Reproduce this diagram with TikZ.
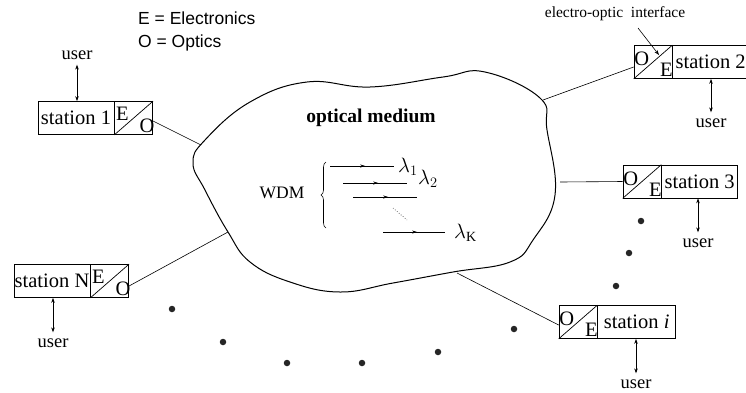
\documentclass[tikz,border=0pt]{standalone}
\usepackage{fontspec}
\setmainfont{Liberation Serif}
\newfontfamily\sansfam{Liberation Sans}
\usetikzlibrary{decorations.pathreplacing,decorations.markings,arrows.meta}
\begin{document}
\begin{tikzpicture}[x=1pt,y=-1pt,
 lab/.style={draw, line width=0.7pt, minimum height=33pt, inner sep=0pt, font=\fontsize{20.5}{22}\selectfont},
 eo/.style={draw, line width=0.7pt, minimum width=38pt, minimum height=33pt, inner sep=0pt},
 letter/.style={inner sep=0pt, font=\fontsize{20.5}{22}\selectfont},
 usr/.style={inner sep=1pt, font=\fontsize{18.5}{20}\selectfont},
 uarrow/.style={{Stealth[length=5pt,width=3.5pt]}-{Stealth[length=5pt,width=3.5pt]}, line width=0.6pt},
 link/.style={line width=0.6pt},
 dot/.style={circle, fill=black!85, inner sep=0pt, minimum size=6.5pt},
 wave/.style={line width=0.6pt, postaction={decorate}, decoration={markings, mark=at position 0.55 with {\arrow{Stealth[length=5pt,width=3pt]}}}},
 lam/.style={inner sep=0pt, anchor=west, font=\fontsize{20}{22}\selectfont}
]
\useasboundingbox (0,0) rectangle (746,392);

% legend
\node[anchor=west, inner sep=0pt, font=\sansfam\fontsize{17.5}{18}\selectfont] (lgE) at (138,18) {E = Electronics};
\node[anchor=west, inner sep=0pt, font=\sansfam\fontsize{17.5}{18}\selectfont] (lgO) at (138,43) {O = Optics};

% optical medium blob
\draw[line width=1pt] plot[smooth cycle, tension=0.7] coordinates {
 (193,163) (205,140) (250,102) (307,82) (370,87) (443,77) (485,72) (540,98)
 (547,130) (555,195) (533,240) (510,262) (453,272) (393,283) (340,292)
 (290,282) (250,262) (228,232) (205,190)};
\coordinate (b1) at (201,145);
\coordinate (bN) at (228,232);
\coordinate (b2) at (543,100);
\coordinate (b3) at (560,182);
\coordinate (bi) at (457,273);

\node[inner sep=0pt, font=\bfseries\fontsize{19.5}{20}\selectfont] (om) at (371,118) {optical\ medium};
\node[inner sep=0pt, font=\fontsize{17.5}{20}\selectfont] (wdm) at (282,193) {WDM};
\coordinate (br1) at (326,228);
\coordinate (br2) at (326,162);
\draw[decorate, decoration={brace, amplitude=5pt}, line width=0.6pt] (br1) -- (br2);

\coordinate (w1a) at (330,166); \coordinate (w1b) at (394,166);
\coordinate (w2a) at (343,183); \coordinate (w2b) at (407,183);
\coordinate (w3a) at (353,197); \coordinate (w3b) at (417,197);
\coordinate (dta) at (393,208); \coordinate (dtb) at (407,220);
\coordinate (w4a) at (383,232); \coordinate (w4b) at (445,232);
\draw[wave] (w1a) -- (w1b);
\draw[wave] (w2a) -- (w2b);
\draw[wave] (w3a) -- (w3b);
\draw[wave] (w4a) -- (w4b);
\draw[line width=0.6pt, dotted] (dta) -- (dtb);
\node[lam] (l1) at (398,167) {$\lambda_1$};
\node[lam] (l2) at (418,179) {$\lambda_2$};
\node[lam] (lK) at (454,233) {$\lambda_{\mathrm{K}}$};

% station 1
\node[lab, minimum width=76pt] (s1) at (76,118) {station 1};
\node[eo, anchor=west] (e1) at (s1.east) {};
\draw[line width=0.7pt] (e1.south west) -- (e1.north east);
\node[letter] (e1E) at ([xshift=8pt,yshift=-13pt]e1.north west) {E};
\node[letter] (e1O) at ([xshift=-6pt,yshift=9.5pt]e1.south east) {O};
\node[usr] (u1) at (77,55) {user};
\draw[uarrow] ([yshift=-4pt]u1.south) -- (u1.south |- s1.north);
\draw[link] ([yshift=-3pt]e1.east) -- (b1);

% station N
\node[lab, minimum width=76pt] (sN) at (52,281) {station N};
\node[eo, anchor=west] (eN) at (sN.east) {};
\draw[line width=0.7pt] (eN.south west) -- (eN.north east);
\node[letter] (eNE) at ([xshift=8pt,yshift=-13pt]eN.north west) {E};
\node[letter] (eNO) at ([xshift=-6pt,yshift=9.5pt]eN.south east) {O};
\node[usr] (uN) at (53,343) {user};
\draw[uarrow] (uN.north |- sN.south) -- ([yshift=5pt]uN.north);
\draw[link] ([yshift=-5pt]eN.east) -- (bN);

% station 2
\node[eo] (e2) at (653,62) {};
\node[lab, minimum width=76pt, anchor=west] (s2) at (e2.east) {station 2};
\draw[line width=0.7pt] (e2.south west) -- (e2.north east);
\node[letter] (e2O) at ([xshift=8pt,yshift=-14pt]e2.north west) {O};
\node[letter] (e2E) at ([xshift=-6pt,yshift=9pt]e2.south east) {E};
\node[usr] (u2) at (711,123) {user};
\draw[uarrow] (u2.north |- s2.south) -- ([yshift=5pt]u2.north);
\draw[link] ([yshift=-5pt]e2.west) -- (b2);

% station 3
\node[eo] (e3) at (642,181.5) {};
\node[lab, minimum width=76pt, anchor=west] (s3) at (e3.east) {station 3};
\draw[line width=0.7pt] (e3.south west) -- (e3.north east);
\node[letter] (e3O) at ([xshift=8pt,yshift=-14pt]e3.north west) {O};
\node[letter] (e3E) at ([xshift=-6pt,yshift=9pt]e3.south east) {E};
\node[usr] (u3) at (698,243) {user};
\draw[uarrow] (u3.north |- s3.south) -- ([yshift=5pt]u3.north);
\draw[link] (e3.west) -- (b3);

% station i
\node[eo] (ei) at (578,322) {};
\node[lab, minimum width=78pt, anchor=west] (si) at (ei.east) {station \textit{i}};
\draw[line width=0.7pt] (ei.south west) -- (ei.north east);
\node[letter] (eiO) at ([xshift=8pt,yshift=-14pt]ei.north west) {O};
\node[letter] (eiE) at ([xshift=-6pt,yshift=9pt]ei.south east) {E};
\node[usr] (ui) at (636,384) {user};
\draw[uarrow] (ui.north |- si.south) -- ([yshift=5pt]ui.north);
\draw[link] ([yshift=-3pt]ei.west) -- (bi);

% electro-optic interface
\node[inner sep=0pt, font=\fontsize{15.5}{18}\selectfont] (ifc) at (615,14) {electro-optic\ \ interface};
\coordinate (ifa) at (638,28);
\coordinate (ift) at (659,55);
\draw[-{Stealth[length=5pt,width=3.5pt]}, line width=0.6pt] (ifa) -- (ift);

% dots
\foreach \p/\n in {(172,309)/1,(223,342)/2,(287,363)/3,(362,363)/4,(438,352)/5,(514,329)/6,(616,286)/7,(629,253)/8,(641,221)/9}
  \node[dot] (d\n) at \p {};
\end{tikzpicture}
\end{document}
